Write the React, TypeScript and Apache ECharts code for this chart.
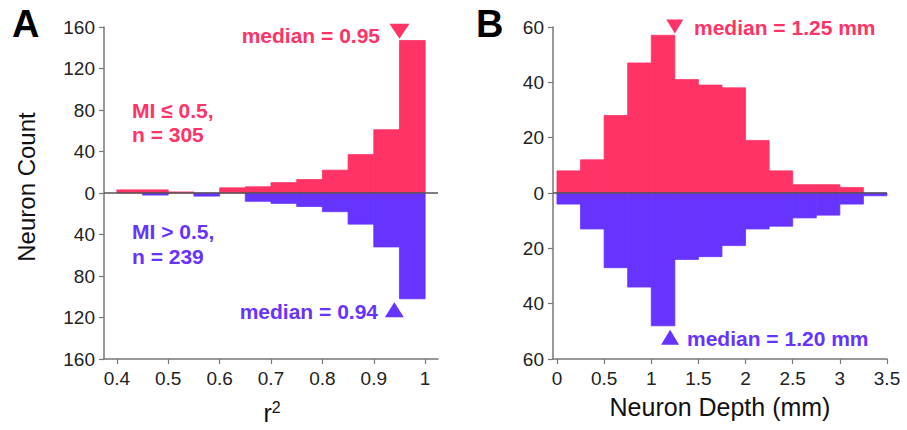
import React, { useEffect, useRef } from "react";
import * as echarts from "echarts";

// Panel A: r^2 bins (width 0.05)
const binStartA = [0.4, 0.45, 0.5, 0.55, 0.6, 0.65, 0.7, 0.75, 0.8, 0.85, 0.9, 0.95];
const binEndA = [0.45, 0.5, 0.55, 0.6, 0.65, 0.7, 0.75, 0.8, 0.85, 0.9, 0.95, 1.0];
const lowMI_A = [3, 3, 1, 0, 5, 6, 10, 13, 22, 37, 61, 147];
const highMI_A = [0, 2, 0, 3, 0, 8, 10, 13, 18, 30, 52, 102];

// Panel B: depth bins (width 0.25 mm)
const binStartB = [0, 0.25, 0.5, 0.75, 1.0, 1.25, 1.5, 1.75, 2.0, 2.25, 2.5, 2.75, 3.0, 3.25];
const binEndB = [0.25, 0.5, 0.75, 1.0, 1.25, 1.5, 1.75, 2.0, 2.25, 2.5, 2.75, 3.0, 3.25, 3.5];
const lowMI_B = [8, 12, 28, 47, 57, 41, 39, 38, 19, 8, 3, 3, 2, 0];
const highMI_B = [4, 13, 27, 34, 48, 24, 23, 19, 13, 12, 9, 8, 4, 1];

const ticksA = [0.4, 0.5, 0.6, 0.7, 0.8, 0.9, 1];
const ticksB = [0, 0.5, 1, 1.5, 2, 2.5, 3, 3.5];

const medianA_low = 0.95;
const medianA_high = 0.94;
const medianB_low = 1.25;
const medianB_high = 1.2;

const RED = "#FF3366";
const BLUE = "#6633FF";
const FONT = "Liberation Sans, Arial, sans-serif";

function histSeries(starts: number[], ends: number[], vals: number[], sign: number, color: string, idx: number, zeroLine: boolean) {
  const data = starts.map((s, i) => [s, ends[i], sign * vals[i]]);
  const s: any = {
    type: "custom",
    xAxisIndex: idx,
    yAxisIndex: idx,
    data,
    encode: { x: [0, 1], y: 2 },
    renderItem: (params: any, api: any) => {
      const x0 = api.value(0);
      const x1 = api.value(1);
      const v = api.value(2);
      const p0 = api.coord([x0, 0]);
      const p1 = api.coord([x1, v]);
      return {
        type: "rect",
        shape: {
          x: p0[0],
          y: Math.min(p0[1], p1[1]),
          width: p1[0] - p0[0],
          height: Math.abs(p1[1] - p0[1]),
        },
        style: { fill: color, stroke: v === 0 ? null : color, lineWidth: 0.8 },
      };
    },
    z: 2,
  };
  if (zeroLine) {
    s.markLine = {
      silent: true,
      symbol: "none",
      label: { show: false },
      lineStyle: { color: "#555", width: 1.5, type: "solid" },
      data: [{ yAxis: 0 }],
      z: 5,
    };
  }
  return s;
}

function tri(x: number, y: number, idx: number, color: string, down: boolean, size: number[]) {
  return {
    type: "scatter",
    xAxisIndex: idx,
    yAxisIndex: idx,
    clip: false,
    symbol: "triangle",
    symbolRotate: down ? 180 : 0,
    symbolSize: size,
    itemStyle: { color, opacity: 1 },
    data: [[x, y]],
    z: 6,
  };
}

export default function App() {
  const ref = useRef<HTMLDivElement>(null);
  useEffect(() => {
    if (!ref.current) return;
    const chart = echarts.init(ref.current, null, { renderer: "svg" });
    const axisLine = { lineStyle: { color: "#777", width: 1.5 } };
    const axisTick = { length: 5, lineStyle: { color: "#777", width: 1.2 } };
    const labelStyle = { color: "#222", fontSize: 19, fontFamily: FONT };
    const txt = (text: string, x: number, y: number, color: string, align: string, size = 21, bold = true) => ({
      type: "text",
      x,
      y,
      style: {
        text,
        fill: color,
        font: `${bold ? "bold " : ""}${size}px ${FONT}`,
        textAlign: align,
        textVerticalAlign: "middle",
      },
    });
    chart.setOption({
      animation: false,
      grid: [
        { left: 104, top: 27, width: 334, height: 332 },
        { left: 553, top: 27, width: 334, height: 332 },
      ],
      xAxis: [
        {
          gridIndex: 0,
          type: "value",
          min: 0.375,
          max: 1.025,
          splitLine: { show: false },
          axisLine: { ...axisLine, onZero: false },
          axisTick: { ...axisTick, customValues: ticksA },
          axisLabel: { ...labelStyle, margin: 10, customValues: ticksA, formatter: (v: number) => String(v) },
        },
        {
          gridIndex: 1,
          type: "value",
          min: -0.042,
          max: 3.5,
          splitLine: { show: false },
          axisLine: { ...axisLine, onZero: false },
          axisTick: { ...axisTick, customValues: ticksB },
          axisLabel: { ...labelStyle, margin: 10, customValues: ticksB, formatter: (v: number) => String(v) },
        },
      ],
      yAxis: [
        {
          gridIndex: 0,
          type: "value",
          min: -160,
          max: 160,
          interval: 40,
          splitLine: { show: false },
          axisLine: { show: true, ...axisLine, onZero: false },
          axisTick: { show: true, ...axisTick },
          axisLabel: { ...labelStyle, margin: 9, formatter: (v: number) => String(Math.abs(v)) },
        },
        {
          gridIndex: 1,
          type: "value",
          min: -60,
          max: 60,
          interval: 20,
          splitLine: { show: false },
          axisLine: { show: true, ...axisLine, onZero: false },
          axisTick: { show: true, ...axisTick },
          axisLabel: { ...labelStyle, margin: 9, formatter: (v: number) => String(Math.abs(v)) },
        },
      ],
      series: [
        histSeries(binStartA, binEndA, lowMI_A, 1, RED, 0, false),
        histSeries(binStartA, binEndA, highMI_A, -1, BLUE, 0, true),
        histSeries(binStartB, binEndB, lowMI_B, 1, RED, 1, false),
        histSeries(binStartB, binEndB, highMI_B, -1, BLUE, 1, true),
        tri(medianA_low, 156, 0, RED, true, [20, 15]),
        tri(medianA_high, -112.5, 0, BLUE, false, [19, 15]),
        tri(medianB_low, 60.2, 1, RED, true, [17, 14]),
        tri(medianB_high, -52.1, 1, BLUE, false, [18, 15]),
      ],
      graphic: [
        txt("A", 12, 24, "#000", "left", 38),
        txt("B", 476, 24, "#000", "left", 38),
        {
          type: "text",
          x: 26,
          y: 187,
          rotation: Math.PI / 2,
          style: {
            text: "Neuron Count",
            fill: "#111",
            font: `24px ${FONT}`,
            textAlign: "center",
            textVerticalAlign: "middle",
          },
        },
        {
          type: "text",
          x: 272,
          y: 412,
          style: {
            text: "{a|r}{b|2}",
            fill: "#111",
            textAlign: "center",
            textVerticalAlign: "middle",
            rich: {
              a: { fontSize: 25, fontFamily: FONT, fill: "#111", verticalAlign: "bottom" },
              b: { fontSize: 16, fontFamily: FONT, fill: "#111", verticalAlign: "top", padding: [0, 0, 10, 0] },
            },
          },
        },
        txt("Neuron Depth (mm)", 720, 407, "#111", "center", 25, false),
        txt("median = 0.95", 380, 35, RED, "right"),
        txt("MI \u2264 0.5,", 132, 110, RED, "left"),
        txt("n = 305", 132, 134, RED, "left"),
        txt("MI > 0.5,", 132, 231, BLUE, "left"),
        txt("n = 239", 132, 256, BLUE, "left"),
        txt("median = 0.94", 378, 311, BLUE, "right"),
        txt("median = 1.25 mm", 694, 27, RED, "left"),
        txt("median = 1.20 mm", 687, 338, BLUE, "left"),
      ],
    });
    return () => chart.dispose();
  }, []);
  return (
    <div
      ref={ref}
      style={{ position: "fixed", left: 0, top: 0, width: 907, height: 430, background: "#fff" }}
    />
  );
}
